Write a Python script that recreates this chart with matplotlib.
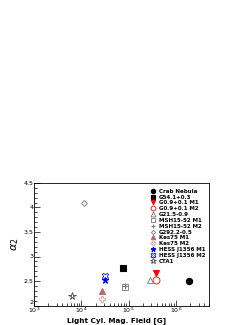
import matplotlib
matplotlib.use("Agg")
import matplotlib.pyplot as plt
from matplotlib.ticker import LogLocator, MultipleLocator, NullFormatter

# source names, light-cylinder field [G], alpha_2
names = ["Crab Nebula", "G54.1+0.3", "G0.9+0.1 M1", "G0.9+0.1 M2", "G21.5-0.9",
         "MSH15-52 M1", "MSH15-52 M2", "G292.2-0.5", "Kes75 M1", "Kes75 M2",
         "HESS J1356 M1", "HESS J1356 M2", "CTA1"]
b_lc = [1.9e6, 7.7e4, 3.7e5, 3.7e5, 2.8e5,
        8.4e4, 8.4e4, 1.14e4, 2.7e4, 2.7e4,
        3.2e4, 3.2e4, 6.4e3]
alpha2 = [2.50, 2.77, 2.66, 2.52, 2.52,
          2.37, 2.39, 4.10, 2.29, 2.14,
          2.53, 2.60, 2.20]

# marker styles (marker, colour, filled, size)
styles = [
    ("o", "black", True, 4.5),
    ("s", "black", True, 4.5),
    ("v", "red", True, 4.5),
    ("o", "red", False, 5),
    ("^", "#777777", False, 5),
    ("s", "#777777", False, 5),
    ("+", "#777777", False, 5),
    ("D", "#777777", False, 3),
    ("^", "#b07070", True, 4.5),
    ("P", "#e8a0a0", False, 5),
    ("*", "blue", True, 5),
    ("X", "blue", False, 5),
    ("*", "#444444", False, 5.5),
]

fig = plt.figure(figsize=(2.51, 3.25), dpi=100)
ax = fig.add_axes([34 / 251, 1 - 305.5 / 325, 175 / 251, 122.5 / 325])

for name, x, y, (m, c, filled, s) in zip(names, b_lc, alpha2, styles):
    if filled or m == "+":
        ax.plot(x, y, linestyle="none", marker=m, color=c, markersize=s,
                markeredgewidth=0.8, label=name)
    else:
        ax.plot(x, y, linestyle="none", marker=m, markerfacecolor="none",
                markeredgecolor=c, markersize=s, markeredgewidth=0.6, label=name)

ax.set_xscale("log")
ax.set_xlim(1e3, 5e6)
ax.set_ylim(2, 4.5)
ax.yaxis.set_major_locator(MultipleLocator(0.5))
ax.yaxis.set_minor_locator(MultipleLocator(0.1))
ax.xaxis.set_major_locator(LogLocator(base=10, numticks=10))
ax.xaxis.set_minor_locator(LogLocator(base=10, subs=range(2, 10), numticks=20))
ax.xaxis.set_minor_formatter(NullFormatter())
ax.tick_params(which="both", direction="in", labelsize=4.5, pad=0.5, width=0.5)
ax.tick_params(which="major", length=4)
ax.tick_params(which="minor", length=2)
ax.set_yticks([2, 2.5, 3, 3.5, 4, 4.5])
ax.set_yticklabels(["2", "2.5", "3", "3.5", "4", "4.5"])
ax.get_yticklabels()[0].set_va("bottom")
for sp in ax.spines.values():
    sp.set_linewidth(0.6)

ax.set_xlabel("Light Cyl. Mag. Field [G]", fontsize=5.2, fontweight="bold",
              va="center")
ax.xaxis.set_label_coords(0.47, -0.12)
ax.set_ylabel(r"$\alpha_2$", fontsize=8, labelpad=2)

ax.legend(loc="upper right", bbox_to_anchor=(1.0, 0.985), frameon=False,
          prop={"weight": "bold", "size": 4.0}, handlelength=1.0,
          handletextpad=0.5, labelspacing=0.15, borderpad=0.2, markerscale=0.7)

fig.savefig("out.png", dpi=100)
